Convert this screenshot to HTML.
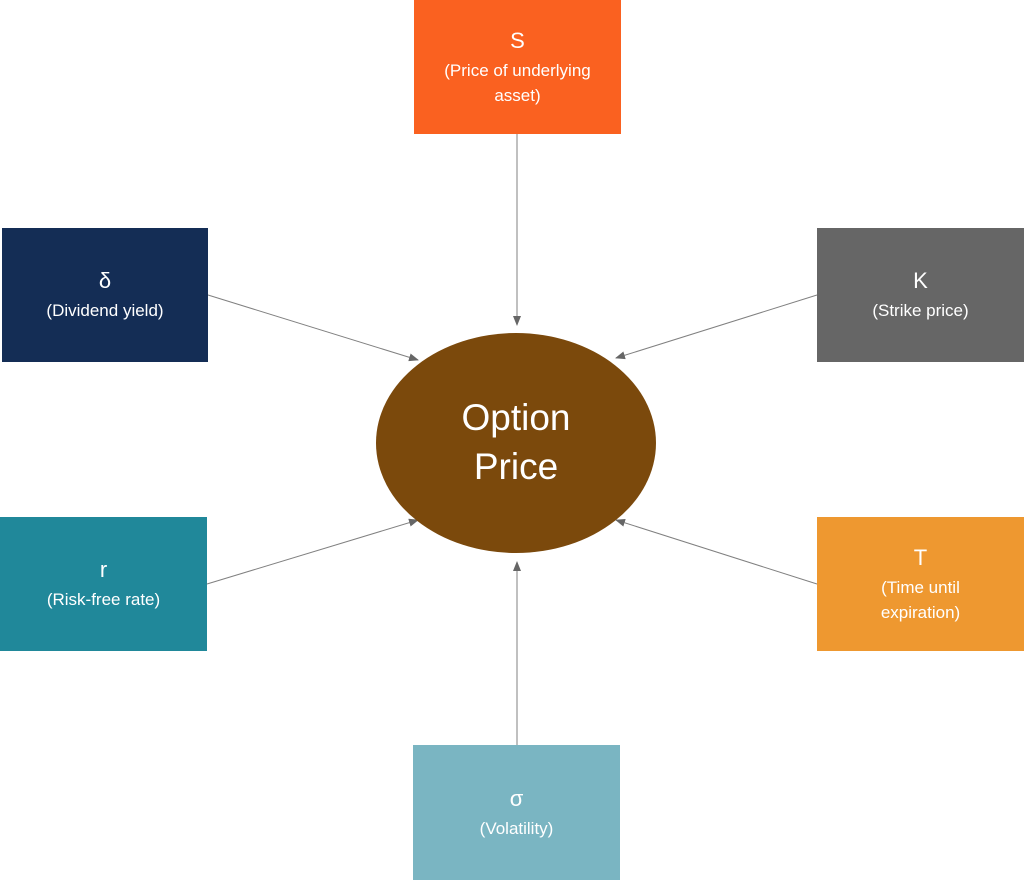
<!DOCTYPE html>
<html><head><meta charset="utf-8"><style>
html,body{margin:0;padding:0;background:#fff;}
body{width:1024px;height:880px;position:relative;overflow:hidden;font-family:"Liberation Sans","DejaVu Sans",sans-serif;}
.b{position:absolute;color:#fff;display:flex;flex-direction:column;align-items:center;justify-content:center;text-align:center;font-size:17px;line-height:25px;}
.b .t{font-size:22px;line-height:28px;margin-bottom:3px;}
svg{position:absolute;left:0;top:0;}
</style></head><body>
<svg width="1024" height="880">
<defs><marker id="a" markerWidth="10" markerHeight="8" refX="9" refY="4" orient="auto" markerUnits="userSpaceOnUse"><path d="M0,0 L10,4 L0,8 z" fill="#666"/></marker></defs>
<g stroke="#808080" stroke-width="1" marker-end="url(#a)">
<line x1="517" y1="134" x2="517" y2="325"/>
<line x1="208" y1="295" x2="418" y2="360"/>
<line x1="817" y1="295" x2="616" y2="358"/>
<line x1="207" y1="584" x2="418" y2="520"/>
<line x1="817" y1="584" x2="616" y2="520"/>
<line x1="517" y1="745" x2="517" y2="562"/>
</g>
<ellipse cx="516" cy="443" rx="140" ry="110" fill="#7B490C"/>
<text x="516" y="430" fill="#fff" font-size="37" text-anchor="middle" font-family="Liberation Sans, sans-serif">Option</text>
<text x="516" y="479" fill="#fff" font-size="37" text-anchor="middle" font-family="Liberation Sans, sans-serif">Price</text>
</svg>
<div class="b" style="left:414px;top:0;width:207px;height:134px;background:#FA6120"><div class="t">S</div>(Price of underlying<br>asset)</div>
<div class="b" style="left:2px;top:228px;width:206px;height:134px;background:#142D55"><div class="t">δ</div>(Dividend yield)</div>
<div class="b" style="left:817px;top:228px;width:207px;height:134px;background:#666666"><div class="t">K</div>(Strike price)</div>
<div class="b" style="left:0;top:517px;width:207px;height:134px;background:#20889A"><div class="t">r</div>(Risk-free rate)</div>
<div class="b" style="left:817px;top:517px;width:207px;height:134px;background:#EE9830"><div class="t">T</div>(Time until<br>expiration)</div>
<div class="b" style="left:413px;top:745px;width:207px;height:135px;background:#7AB5C2"><div class="t">σ</div>(Volatility)</div>
</body></html>
